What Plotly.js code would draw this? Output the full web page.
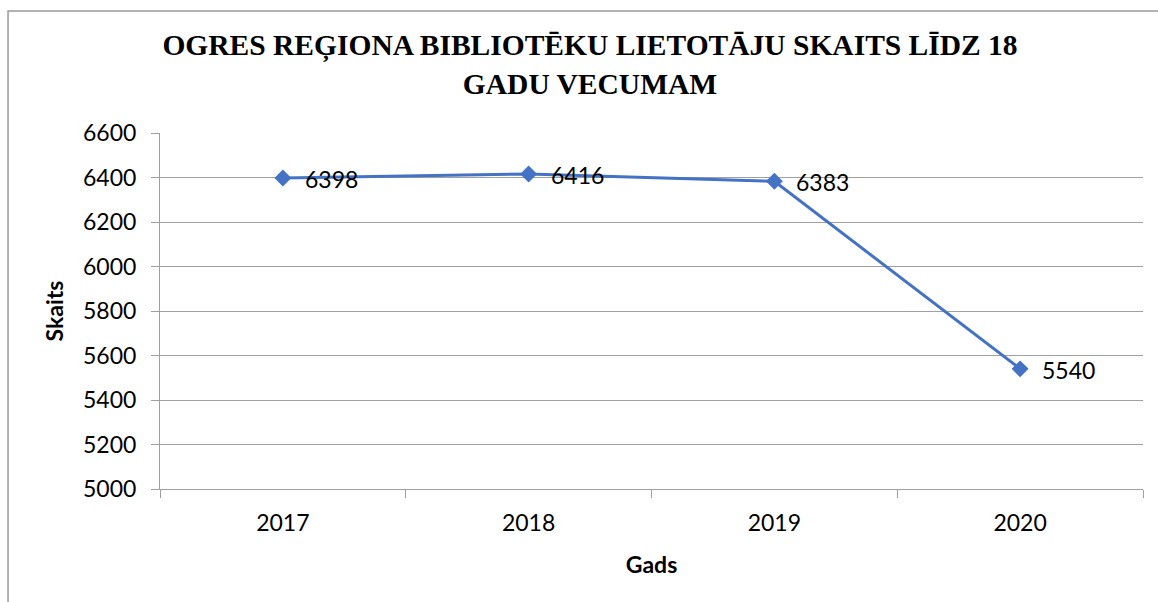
<!DOCTYPE html>
<html>
<head>
<meta charset="utf-8">
<script src="https://cdn.plot.ly/plotly-3.0.1.min.js"></script>
<style>html,body{margin:0;padding:0;background:#fff}#chart{width:1158px;height:602px}</style>
</head>
<body>
<div id="chart"></div>
<script>
const years = ['2017', '2018', '2019', '2020'];
const users = [6398, 6416, 6383, 5540];
const yTicks = [5000, 5200, 5400, 5600, 5800, 6000, 6200, 6400, 6600];

const tickFont = {family: 'Lato, "Open Sans", sans-serif', size: 23, color: '#000'};
const grid = '#a0a0a0';

const trace = {
  type: 'scatter',
  mode: 'lines+markers',
  x: years,
  y: users,
  line: {color: '#4472C4', width: 3},
  marker: {symbol: 'diamond', size: 13, color: '#4472C4'},
  hoverinfo: 'x+y'
};

const annotations = years.map((yr, i) => ({
  x: i, y: users[i], xref: 'x', yref: 'y',
  text: String(users[i]), showarrow: false,
  xanchor: 'left', yanchor: 'middle', xshift: 20, yshift: -1,
  font: tickFont
}));

const layout = {
  width: 1158, height: 602,
  margin: {l: 160, r: 15, t: 133, b: 113},
  paper_bgcolor: '#fff', plot_bgcolor: '#fff',
  showlegend: false,
  title: {
    text: 'OGRES REĢIONA BIBLIOTĒKU LIETOTĀJU SKAITS LĪDZ 18<br>GADU VECUMAM',
    font: {family: '"Liberation Serif", "Times New Roman", serif', size: 29.5, color: '#000', weight: 'bold'},
    x: 0.5095, xanchor: 'center', xref: 'container',
    y: 0.908, yanchor: 'top'
  },
  xaxis: {
    type: 'category',
    range: [-0.5, 3.5],
    tickson: 'boundaries',
    ticks: 'outside', ticklen: 8, tickcolor: grid, tickwidth: 1,
    showgrid: false, zeroline: false,
    showline: true, linecolor: grid, linewidth: 1,
    tickfont: tickFont,
    ticklabelstandoff: 13,
    title: {text: '<b>Gads</b>', font: {family: 'Lato, "Open Sans", sans-serif', size: 23, color: '#000'}, standoff: 22},
    fixedrange: true
  },
  yaxis: {
    range: [5000, 6600],
    tickvals: yTicks,
    ticktext: yTicks.map(String),
    ticks: 'outside', ticklen: 8, tickcolor: grid, tickwidth: 1,
    showgrid: true, gridcolor: grid, gridwidth: 1,
    zeroline: false,
    showline: true, linecolor: grid, linewidth: 1,
    tickfont: tickFont,
    ticklabelstandoff: 10,
    title: {text: '<b>Skaits</b>', font: {family: 'Lato, "Open Sans", sans-serif', size: 23, color: '#000'}, standoff: 12},
    fixedrange: true
  },
  shapes: [{
    type: 'rect', xref: 'paper', yref: 'paper',
    x0: -0.1546, x1: 1.5, y0: -1, y1: 1.3427,
    line: {color: '#999999', width: 1.5}, fillcolor: 'rgba(0,0,0,0)', layer: 'below'
  }],
  annotations: annotations
};

Plotly.newPlot('chart', [trace], layout, {displayModeBar: false, staticPlot: true});
</script>
</body>
</html>
